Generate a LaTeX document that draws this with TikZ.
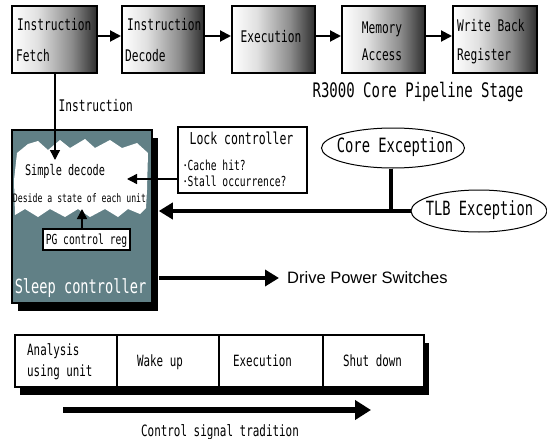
\documentclass[tikz,border=0pt]{standalone}
\usepackage{fontspec}
\setmainfont[FakeStretch=0.7]{DejaVu Sans Mono}
\newfontfamily\arialfont{Liberation Sans}
\newfontfamily\dotfont{DejaVu Sans}
\usetikzlibrary{arrows.meta,shapes.geometric,shadows}
\definecolor{slate}{RGB}{97,128,134}
\newcommand\fsz[1]{\fontsize{#1}{#1}\selectfont}
\pgfdeclarehorizontalshading{stagefill}{100bp}{color(0bp)=(white); color(25bp)=(white); color(40bp)=(white!88!black); color(60bp)=(black!45); color(75bp)=(black!82); color(100bp)=(black!82)}

\begin{document}
\begin{tikzpicture}[x=1pt,y=-1pt,
  stage/.style={draw=black, line width=2pt, shading=stagefill, minimum height=67pt, inner sep=0pt},
  lbl/.style={inner sep=0pt, font=\fsz{#1}, text height=0.73em, text depth=0pt, yshift=-1.5pt},
  lbl/.default=16,
  arr/.style={line width=2pt, -{Triangle[length=11pt,width=11pt]}},
  thinarr/.style={line width=1.4pt, -{Triangle[length=10pt,width=10pt]}},
  heavy/.style={line width=4.5pt},
  heavyarr/.style={line width=4.5pt, -{Triangle[length=14pt,width=16pt]}},
  boxed/.style={draw=black, line width=1.3pt, fill=white, inner sep=0pt},
  oval/.style={ellipse, draw=black, line width=1pt, fill=white, inner sep=0pt},
  cell/.style={draw=black, line width=1.5pt, fill=white, minimum height=52pt, inner sep=0pt}]
\useasboundingbox (0,0) rectangle (547,439);

% pipeline stages
\node[stage, minimum width=85pt] (s1) at (54.5,39.5) {};
\node[stage, minimum width=82pt] (s2) at (163,39.5) {};
\node[stage, minimum width=83pt] (s3) at (273.5,39.5) {};
\node[stage, minimum width=83pt] (s4) at (383.5,39.5) {};
\node[stage, minimum width=84pt] (s5) at (495,39.5) {};

\node[lbl=16, anchor=west] (t1a) at (17,25.5) {Instruction};
\node[lbl=16, anchor=west] (t1b) at (16,56) {Fetch};
\node[lbl=16, anchor=west] (t2a) at (127,25.5) {Instruction};
\node[lbl=16, anchor=west] (t2b) at (125,56) {Decode};
\node[lbl=16] (t3) at (271,37) {Execution};
\node[lbl=16] (t4a) at (382,28) {Memory};
\node[lbl=16] (t4b) at (382,55.5) {Access};
\node[lbl=16, anchor=west] (t5a) at (457,26) {Write Back};
\node[lbl=16, anchor=west] (t5b) at (457,55.5) {Register};

\foreach \a/\b in {s1/s2, s2/s3, s3/s4, s4/s5}
  \draw[arr] ([yshift=3.5pt]\a.east) -- ([yshift=3.5pt]\b.west);

\node[lbl=20] (pipe) at (418,92.5) {R3000 Core Pipeline Stage};

% sleep controller
\node[draw=black, line width=1.5pt, fill=slate, minimum width=140pt, minimum height=173pt,
      drop shadow={shadow xshift=6pt, shadow yshift=-8pt, fill=black, opacity=1}] (sleep) at (82,216.5) {};

\fill[white] (17,153) -- (28,144) -- (38,141) -- (48,150) -- (60,140) -- (70,148) -- (85,139)
  -- (95,148) -- (110,140) -- (122,148) -- (137,143) -- (148,153) -- (147,190) -- (146,208)
  -- (140,214) -- (128,209) -- (118,217) -- (105,209) -- (90,217) -- (78,209) -- (65,217)
  -- (50,209) -- (38,217) -- (25,209) -- (15,215) -- (14,180) -- cycle;

\node[lbl=14.6] (dec1) at (65,170) {Simple decode};
\node[lbl=11.7] (dec2) at (79.5,197) {Deside a state of each unit};
\node[boxed, minimum width=87pt, minimum height=21pt] (pg) at (86.5,239.5) {};
\node[lbl=13.8] (pgt) at (86.5,239) {PG control reg};
\node[lbl=19.5, text=white] (sleept) at (80.5,288.5) {Sleep controller};

\coordinate (instip) at (55,160);
\draw[thinarr] (s1.south -| instip) -- (instip);
\node[lbl=16, anchor=west] (inst) at (58.5,106.5) {Instruction};

\coordinate (pgtip) at (82,209);
\draw[thinarr] (pg.north -| pgtip) -- (pgtip);

% lock controller
\node[boxed, minimum width=129pt, minimum height=66pt] (lock) at (242.5,160) {};
\node[lbl=16.4] (lockt) at (241.5,139) {Lock controller};
\node[lbl=13.8, anchor=west] (lk1) at (183,165.5) {{\dotfont ·}Cache hit?};
\node[lbl=13.8, anchor=west] (lk2) at (183,181.5) {{\dotfont ·}Stall occurrence?};
\coordinate (locktip) at (127,179);
\draw[thinarr] (lock.west |- locktip) -- (locktip);

% exceptions
\node[oval, minimum width=143pt, minimum height=40pt] (core) at (393,148) {};
\node[lbl=19.7] (coret) at (395,147.5) {Core Exception};
\node[oval, minimum width=136pt, minimum height=42pt] (tlb) at (479,211) {};
\node[lbl=19.6] (tlbt) at (479.5,210.5) {TLB Exception};

\coordinate (join) at (391,211);
\draw[heavy] (core.south -| join) -- (join);
\draw[heavyarr] (tlb.west) -- (join) -- ([xshift=6pt]sleep.east |- join);

% power switch output
\node[inner sep=0pt, anchor=west, font=\arialfont\fsz{16.5}, text height=0.72em, text depth=0pt, yshift=-1.5pt] (drive) at (287,278) {Drive Power Switches};
\coordinate (drvtip) at (279,278);
\draw[heavyarr] ([xshift=6pt]sleep.east |- drvtip) -- (drvtip);

% control sequence
\fill[black] (20,343) rectangle (429,395);
\node[cell, minimum width=102pt] (c1) at (66,361) {};
\node[cell, minimum width=102pt] (c2) at (168,361) {};
\node[cell, minimum width=104pt] (c3) at (271,361) {};
\node[cell, minimum width=101pt] (c4) at (373.5,361) {};
\node[lbl=15.5, anchor=west] (c1a) at (27,350) {Analysis};
\node[lbl=15.5, anchor=west] (c1b) at (27,371) {using unit};
\node[lbl=15.5] (c2t) at (160,361.5) {Wake up};
\node[lbl=15.5] (c3t) at (262.5,361) {Execution};
\node[lbl=15.5] (c4t) at (372.5,361) {Shut down};

\coordinate (ctlstart) at (63,410);
\coordinate (ctlend) at (371,410);
\draw[line width=5.5pt, -{Triangle[length=16pt,width=19pt]}] (ctlstart) -- (ctlend);
\node[lbl=15.6] (ctlt) at (220,431) {Control signal tradition};
\end{tikzpicture}
\end{document}
